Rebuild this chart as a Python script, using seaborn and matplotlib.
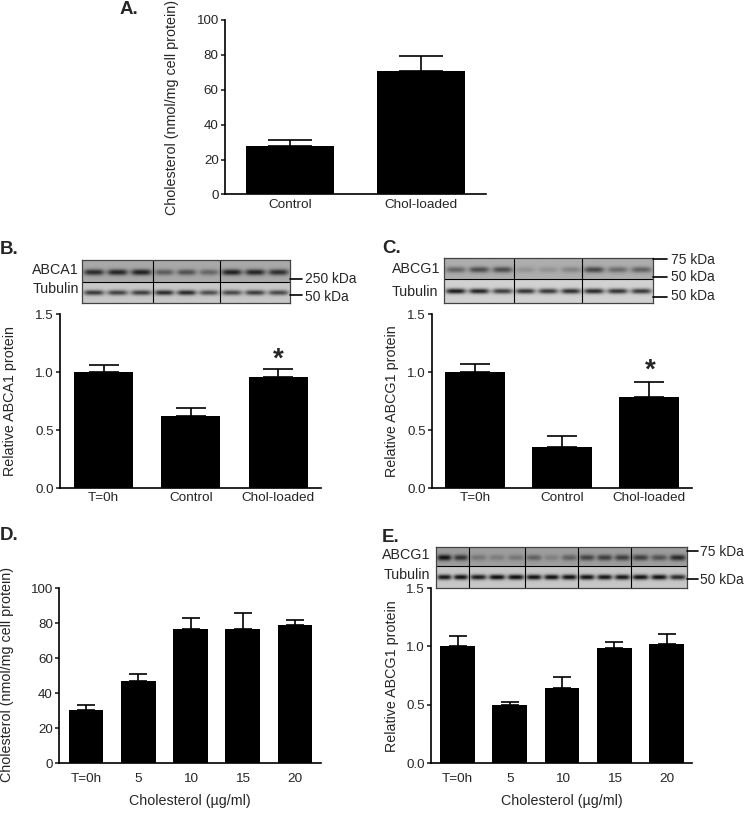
import numpy as np
import matplotlib
matplotlib.use("Agg")
import matplotlib.pyplot as plt
import seaborn as sns

W, H = 745, 822

sns.set_style("ticks")
plt.rcParams['font.family'] = ['Liberation Sans', 'DejaVu Sans']

# panel A
a_labels = ["Control", "Chol-loaded"]
a_values = [28, 70.5]
a_errors = [3, 9]
# panel B
b_labels = ["T=0h", "Control", "Chol-loaded"]
b_values = [1.0, 0.62, 0.96]
b_errors = [0.06, 0.07, 0.065]
# panel C
c_labels = ["T=0h", "Control", "Chol-loaded"]
c_values = [1.0, 0.355, 0.785]
c_errors = [0.07, 0.095, 0.125]
# panel D
d_labels = ["T=0h", "5", "10", "15", "20"]
d_values = [30.5, 47, 76.5, 76.5, 79]
d_errors = [2.5, 4, 6.5, 9.5, 2.5]
# panel E
e_labels = ["T=0h", "5", "10", "15", "20"]
e_values = [1.0, 0.495, 0.645, 0.99, 1.02]
e_errors = [0.09, 0.025, 0.095, 0.05, 0.085]

# band darkness per lane, blots top row then tubulin row
b_top = [[.50, .52, .54], [.30, .34, .26], [.54, .52, .48]]
b_tub = [[.56, .52, .54], [.62, .62, .48], [.50, .54, .50]]
c_top = [[.28, .38, .38], [.10, .10, .16], [.40, .26, .30]]
c_tub = [[.72, .68, .58], [.62, .60, .64], [.66, .62, .60]]
e_top = [[.55, .42], [.16, .13, .16], [.24, .12, .24], [.36, .38, .38], [.38, .30, .46]]
e_tub = [[.70, .72], [.68, .74, .74], [.72, .72, .72], [.72, .70, .70], [.72, .72, .62]]


def px_axes(fig, left, top, right, bottom):
    return fig.add_axes([left / W, 1 - bottom / H, (right - left) / W, (bottom - top) / H])


def bar_panel(fig, box, labels, values, errors, ymax, step, ylabel, first, spacing, width, lab_xy, xpad=3):
    left, top, right, bottom = box
    ax = px_axes(fig, left, top, right, bottom)
    sns.barplot(x=labels, y=values, color="black", saturation=1, width=width / spacing,
                linewidth=0, ax=ax)
    ax.errorbar(range(len(values)), values, yerr=[np.zeros(len(errors)), errors],
                fmt="none", ecolor="black", elinewidth=1.2, capsize=width * 0.18, capthick=1.2)
    # xlim so that bars land on the pixel positions of the original
    ax.set_xlim((left - first) / spacing, (right - first) / spacing)
    ax.set_ylim(0, ymax)
    ax.set_yticks(np.arange(0, ymax + step / 2, step))
    if ymax < 10:
        ax.set_yticklabels(["0.0", "0.5", "1.0", "1.5"])
    ax.tick_params(axis="y", width=1.2, length=3, labelsize=9.6, pad=1.5)
    ax.tick_params(axis="x", length=0, labelsize=9.7, pad=xpad)
    for s in ["left", "bottom"]:
        ax.spines[s].set_linewidth(1.2)
        ax.spines[s].set_color("black")
    sns.despine(ax=ax)
    ax.set_ylabel(ylabel, fontsize=10.3)
    # label anchor is the text's right edge, so shift by half its height
    ax.yaxis.set_label_coords((lab_xy[0] + 7 - left) / (right - left), (bottom - lab_xy[1]) / (bottom - top))
    return ax


def blot(fig, box, mid, cuts, top_vals, tub_vals, shade_top, shade_tub):
    left, top, right, bottom = box
    ax = px_axes(fig, left, top, right, bottom)
    h = bottom - top
    w = right - left
    yy, xx = np.mgrid[0:h * 3, 0:w * 3]
    yy = yy / 3
    xx = xx / 3
    img = np.zeros_like(xx, dtype=float)
    img[:] = shade_tub
    img[yy < mid - top] = shade_top
    edges = [0] + [c - left for c in cuts] + [w]
    for g in range(len(top_vals)):
        n = len(top_vals[g])
        lw = (edges[g + 1] - edges[g]) / n
        for i in range(n):
            cx = edges[g] + lw * (i + 0.5)
            ya = (mid - top) * 0.55
            yb = (mid - top) + (h - (mid - top)) * 0.5
            for cy, val, bh in [(ya, top_vals[g][i], 3.0), (yb, tub_vals[g][i], 2.6)]:
                band = np.exp(-((xx - cx) / (lw * 0.43)) ** 4 - ((yy - cy) / bh) ** 2)
                img -= band * val
    ax.imshow(np.clip(img, 0, 1), cmap="gray", vmin=0, vmax=1, aspect="auto",
              extent=[0, w, h, 0], interpolation="bilinear")
    ax.set_xticks([])
    ax.set_yticks([])
    for s in ax.spines.values():
        s.set_linewidth(0.9)
        s.set_color("#444444")
    ax.axhline(mid - top, color="black", lw=0.8)
    for c in cuts:
        ax.axvline(c - left, color="black", lw=0.8)


def txt(fig, x, y, s, **kw):
    kw.setdefault("fontsize", 10.3)
    kw.setdefault("va", "center")
    fig.text(x / W, 1 - y / H, s, **kw)


def marker(fig, x1, x2, y):
    fig.add_artist(plt.Line2D([x1 / W, x2 / W], [1 - y / H, 1 - y / H], color="black", lw=1.2))


fig = plt.figure(figsize=(W / 100, H / 100), dpi=100)

chol_label = "Cholesterol (nmol/mg cell protein)"
ug_label = "Cholesterol (µg/ml)"

bar_panel(fig, (225, 20, 486, 194.5), a_labels, a_values, a_errors, 100, 20, chol_label, 290, 131, 88, (172, 107))
bar_panel(fig, (60, 314, 321, 488), b_labels, b_values, b_errors, 1.5, 0.5, "Relative ABCA1 protein", 103.7, 87.2, 59, (10, 401))
bar_panel(fig, (432, 314, 692, 488), c_labels, c_values, c_errors, 1.5, 0.5, "Relative ABCG1 protein", 475, 87, 59.5, (392, 401))
ax_d = bar_panel(fig, (59, 588, 321, 763), d_labels, d_values, d_errors, 100, 20, chol_label, 86, 52.25, 34.5, (7, 674), xpad=7)
ax_e = bar_panel(fig, (431, 588, 692, 763), e_labels, e_values, e_errors, 1.5, 0.5, "Relative ABCG1 protein", 457.5, 52.3, 34.7, (392, 676), xpad=7)
ax_d.set_xlabel(ug_label, fontsize=10.3, labelpad=7)
ax_e.set_xlabel(ug_label, fontsize=10.3, labelpad=7)

blot(fig, (82, 260, 290, 303), 282, [153, 220], b_top, b_tub, 0.66, 0.78)
blot(fig, (444, 258, 653, 303), 279, [514, 582], c_top, c_tub, 0.68, 0.82)
blot(fig, (436, 547, 687, 588), 566, [469, 525, 578, 631], e_top, e_tub, 0.62, 0.78)

# panel letters
for x, y, s in [(120, 9, "A."), (0, 249, "B."), (382, 248, "C."), (0, 535, "D."), (382, 537, "E.")]:
    txt(fig, x, y, s, fontsize=13.5, fontweight="bold")

# blot labels
txt(fig, 32, 270, "ABCA1")
txt(fig, 33, 289, "Tubulin")
txt(fig, 392, 269, "ABCG1")
txt(fig, 392, 292, "Tubulin")
txt(fig, 382, 555, "ABCG1")
txt(fig, 384, 575, "Tubulin")

# size markers
marker(fig, 290, 302, 279)
marker(fig, 290, 302, 295)
txt(fig, 305, 279, "250 kDa", fontsize=9.9)
txt(fig, 305, 297, "50 kDa", fontsize=9.9)
marker(fig, 653, 667, 259)
marker(fig, 653, 667, 277)
marker(fig, 653, 667, 297)
txt(fig, 671, 260, "75 kDa", fontsize=9.9)
txt(fig, 671, 277, "50 kDa", fontsize=9.9)
txt(fig, 671, 296, "50 kDa", fontsize=9.9)
marker(fig, 687, 698, 551)
marker(fig, 687, 698, 579)
txt(fig, 700, 552, "75 kDa", fontsize=9.9)
txt(fig, 700, 580, "50 kDa", fontsize=9.9)

# significance stars
txt(fig, 278, 360, "*", fontsize=20, fontweight="bold", ha="center")
txt(fig, 650, 371, "*", fontsize=20, fontweight="bold", ha="center")

fig.savefig("out.png", dpi=100)
